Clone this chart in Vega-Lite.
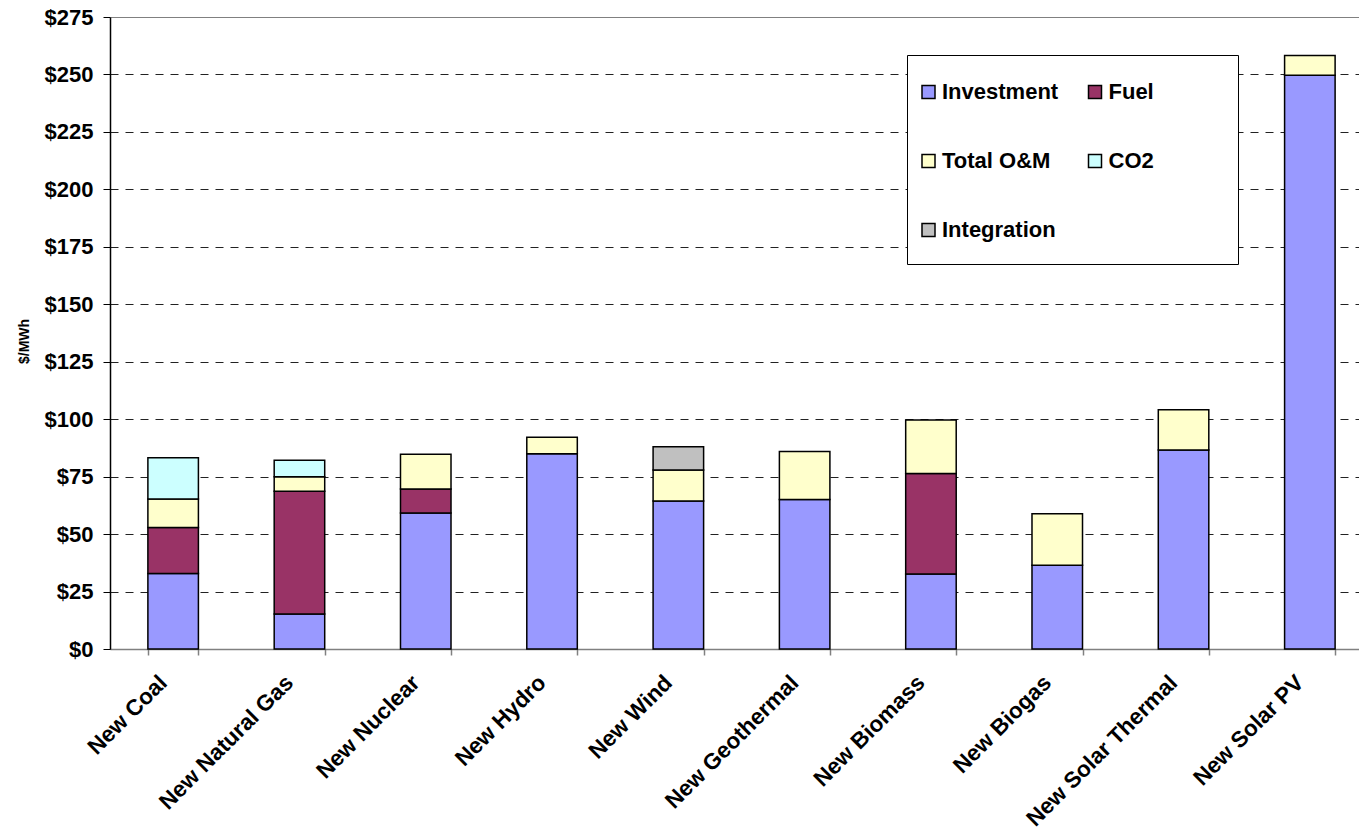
{
  "$schema": "https://vega.github.io/schema/vega-lite/v6.json",
  "autosize": {"type": "none"},
  "padding": {"left": 110, "top": 17, "right": 0, "bottom": 182},
  "width": 1249,
  "height": 632,
  "background": "white",
  "config": {
    "view": {"stroke": null},
    "font": "Liberation Sans"
  },
  "data": {
    "values": [
      {"tech": "New Coal", "cost": "Investment", "layer": 1, "usd": 32.9},
      {"tech": "New Coal", "cost": "Fuel", "layer": 2, "usd": 20.0},
      {"tech": "New Coal", "cost": "Total O&M", "layer": 3, "usd": 12.4},
      {"tech": "New Coal", "cost": "CO2", "layer": 4, "usd": 17.9},
      {"tech": "New Natural Gas", "cost": "Investment", "layer": 1, "usd": 15.2},
      {"tech": "New Natural Gas", "cost": "Fuel", "layer": 2, "usd": 53.4},
      {"tech": "New Natural Gas", "cost": "Total O&M", "layer": 3, "usd": 6.4},
      {"tech": "New Natural Gas", "cost": "CO2", "layer": 4, "usd": 7.1},
      {"tech": "New Nuclear", "cost": "Investment", "layer": 1, "usd": 59.2},
      {"tech": "New Nuclear", "cost": "Fuel", "layer": 2, "usd": 10.4},
      {"tech": "New Nuclear", "cost": "Total O&M", "layer": 3, "usd": 15.1},
      {"tech": "New Hydro", "cost": "Investment", "layer": 1, "usd": 85.0},
      {"tech": "New Hydro", "cost": "Total O&M", "layer": 3, "usd": 7.1},
      {"tech": "New Wind", "cost": "Investment", "layer": 1, "usd": 64.4},
      {"tech": "New Wind", "cost": "Total O&M", "layer": 3, "usd": 13.5},
      {"tech": "New Wind", "cost": "Integration", "layer": 5, "usd": 10.1},
      {"tech": "New Geothermal", "cost": "Investment", "layer": 1, "usd": 65.0},
      {"tech": "New Geothermal", "cost": "Total O&M", "layer": 3, "usd": 20.9},
      {"tech": "New Biomass", "cost": "Investment", "layer": 1, "usd": 32.6},
      {"tech": "New Biomass", "cost": "Fuel", "layer": 2, "usd": 43.8},
      {"tech": "New Biomass", "cost": "Total O&M", "layer": 3, "usd": 23.2},
      {"tech": "New Biogas", "cost": "Investment", "layer": 1, "usd": 36.4},
      {"tech": "New Biogas", "cost": "Total O&M", "layer": 3, "usd": 22.5},
      {"tech": "New Solar Thermal", "cost": "Investment", "layer": 1, "usd": 86.6},
      {"tech": "New Solar Thermal", "cost": "Total O&M", "layer": 3, "usd": 17.5},
      {"tech": "New Solar PV", "cost": "Investment", "layer": 1, "usd": 249.6},
      {"tech": "New Solar PV", "cost": "Total O&M", "layer": 3, "usd": 8.7}
    ]
  },
  "mark": {"type": "bar", "stroke": "#000000", "strokeWidth": 1.5},
  "encoding": {
    "x": {
      "field": "tech",
      "type": "nominal",
      "sort": null,
      "title": null,
      "scale": {"range": [0, 1263], "paddingInner": 0.6, "paddingOuter": 0.3},
      "axis": {
        "labelAngle": -45,
        "labelFont": "Liberation Sans",
        "labelFontWeight": "bold",
        "labelFontSize": 22.5,
        "labelColor": "#000000",
        "labelPadding": 16,
        "labelOffset": -18,
        "labelLimit": 400,
        "tickBand": "extent",
        "tickSize": 6,
        "tickColor": "#808080",
        "tickWidth": 1.5,
        "domainColor": "#808080",
        "domainWidth": 1.5,
        "grid": false
      }
    },
    "y": {
      "field": "usd",
      "type": "quantitative",
      "stack": "zero",
      "title": "$/MWh",
      "scale": {"domain": [0, 275], "nice": false},
      "axis": {
        "values": [0, 25, 50, 75, 100, 125, 150, 175, 200, 225, 250, 275],
        "labelExpr": "'$' + datum.value",
        "labelFont": "Liberation Sans",
        "labelFontWeight": "bold",
        "labelFontSize": 22,
        "labelColor": "#000000",
        "labelPadding": 10,
        "tickSize": 7,
        "tickColor": "#000000",
        "tickWidth": 1,
        "domainColor": "#000000",
        "domainWidth": 1.5,
        "grid": true,
        "gridColor": {"condition": {"test": "datum.value == 275", "value": "#808080"}, "value": "#222222"},
        "gridDash": {"condition": {"test": "datum.value == 275", "value": []}, "value": [8, 7]},
        "gridWidth": 1,
        "titleFont": "Liberation Sans",
        "titleFontWeight": "bold",
        "titleFontSize": 14,
        "titleColor": "#000000",
        "titlePadding": 13,
        "titleY": 324
      }
    },
    "color": {
      "field": "cost",
      "type": "nominal",
      "scale": {
        "domain": ["Investment", "Fuel", "Total O&M", "CO2", "Integration"],
        "range": ["#9999FF", "#993366", "#FFFFCC", "#CCFFFF", "#C0C0C0"]
      },
      "legend": {
        "orient": "none",
        "legendX": 797,
        "legendY": 38,
        "direction": "horizontal",
        "columns": 2,
        "title": "\u200b\u2003\u2003\u2003\u2003\u2003\u2003\u2003\u2003\u2003\u2003\u2003\u2003\u2003\u2003\u2003\u2003\u2003\u2003\u2003\u2003\u2003\u2003\u2003\u2003\u2003\u2003\u2003\u2003\u2003\u2003\u2003\u2003\u2003\u2003\u2003\u2003\u2003\u2003\u2003\u2003\u2003\u2003\u2003\u2003\u2003\u2003\u2003\u2003\u2003\u2003\u2003\u2003\u2003\u2003\u2003\u2003\u2003\u2003\u2003\u2003\u2003\u2003\u2003\u2003\u2003\u2003\u2003\u2003\u2003\u2003\u2003\u2003\u2003\u2003\u2003\u2003\u2003\u2003\u2003\u2003\u2003\u2003\u2003\u2003\u2003\u2003\u2003\u2003\u2003\u2003\u2003\u2003\u2003\u2003\u2003\u200b",
        "titleFontSize": 3,
        "titlePadding": 0,
        "titleLimit": 1000,
        "padding": 23,
        "rowPadding": 47,
        "columnPadding": 26.5,
        "strokeColor": "#000000",
        "fillColor": "#FFFFFF",
        "symbolType": "square",
        "symbolSize": 169,
        "symbolOffset": -12.5,
        "symbolStrokeColor": "#000000",
        "symbolStrokeWidth": 1.5,
        "symbolOpacity": 1,
        "labelFont": "Liberation Sans",
        "labelFontWeight": "bold",
        "labelFontSize": 22,
        "labelColor": "#000000",
        "labelOffset": 2.5,
        "labelLimit": 300
      }
    },
    "order": {"field": "layer", "type": "quantitative", "sort": "ascending"}
  }
}
